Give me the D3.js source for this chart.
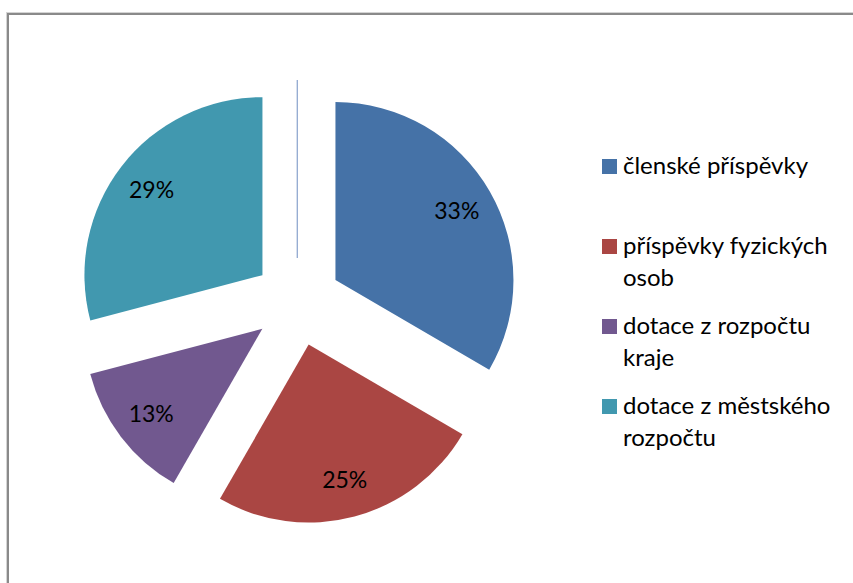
<!DOCTYPE html>
<html>
<head>
<meta charset="utf-8">
<script src="https://cdn.jsdelivr.net/npm/d3@7"></script>
<style>
  html, body { margin: 0; padding: 0; background: #ffffff; }
  svg { display: block; }
</style>
</head>
<body>
<div id="chart"></div>
<script>
// ---- data ----
const categories = ["členské příspěvky", "příspěvky fyzických osob", "dotace z rozpočtu kraje", "dotace z městského rozpočtu"];
const legendLines = [["členské příspěvky"], ["příspěvky fyzických", "osob"], ["dotace z rozpočtu", "kraje"], ["dotace z městského", "rozpočtu"]];
const values = [33.4, 24.9, 12.6, 29.1];
const percentLabels = ["33%", "25%", "13%", "29%"];
const colors = ["#4572A7", "#AA4643", "#71588F", "#4198AF"];

// ---- layout ----
const W = 853, H = 583;
const cx = 297.3, cy = 302, R = 178, explode = 44, labelR = 140;

const svg = d3.select("#chart").append("svg").attr("width", W).attr("height", H);

// frame
svg.append("rect").attr("x", 6.5).attr("y", 12.5).attr("width", W + 20).attr("height", H + 20)
  .attr("fill", "none").attr("stroke", "#d4d4d4").attr("stroke-width", 1);
svg.append("rect").attr("x", 8).attr("y", 14).attr("width", W + 20).attr("height", H + 20)
  .attr("fill", "none").attr("stroke", "#8a8a8a").attr("stroke-width", 2);

const pie = d3.pie().sort(null).value(d => d).startAngle(0).endAngle(2 * Math.PI);
const arcs = pie(values);
const arc = d3.arc().innerRadius(0).outerRadius(R);
const labelArc = d3.arc().innerRadius(labelR).outerRadius(labelR);

const g = svg.append("g").attr("transform", `translate(${cx},${cy})`);

function offset(a) {
  const m = (a.startAngle + a.endAngle) / 2;
  return [Math.sin(m) * explode, -Math.cos(m) * explode];
}

// thin seam line at angle 0 (zero-width slice edge)
const seam = { startAngle: arcs[0].startAngle, endAngle: arcs[0].startAngle };
g.append("path")
  .attr("transform", `translate(${offset(seam)})`)
  .attr("d", arc(seam))
  .attr("fill", "none")
  .attr("stroke", "#93aad0")
  .attr("stroke-width", 1);

const slices = g.selectAll("g.slice").data(arcs).enter().append("g")
  .attr("class", "slice")
  .attr("transform", d => `translate(${offset(d)})`);

slices.append("path")
  .attr("d", arc)
  .attr("fill", (d, i) => colors[i]);

slices.append("text")
  .attr("transform", d => `translate(${labelArc.centroid(d)})`)
  .attr("text-anchor", "middle")
  .attr("dy", "0.36em")
  .attr("font-family", "Lato, 'Open Sans', sans-serif")
  .attr("font-size", 23)
  .attr("fill", "#000")
  .text((d, i) => percentLabels[i]);

// legend
const legendX = 602, legendY0 = 159, legendStep = 80, sq = 15;
const leg = svg.append("g");
const items = leg.selectAll("g").data(categories).enter().append("g")
  .attr("transform", (d, i) => `translate(${legendX},${legendY0 + i * legendStep})`);
items.append("rect").attr("width", sq).attr("height", sq).attr("fill", (d, i) => colors[i]);
items.append("text")
  .attr("x", 21).attr("y", 14.5)
  .attr("font-family", "Lato, 'Open Sans', sans-serif")
  .attr("font-size", 24)
  .attr("fill", "#000")
  .selectAll("tspan").data((d, i) => legendLines[i]).enter().append("tspan")
  .attr("x", 21).attr("dy", (d, j) => j === 0 ? 0 : 32)
  .text(d => d);
</script>
</body>
</html>
